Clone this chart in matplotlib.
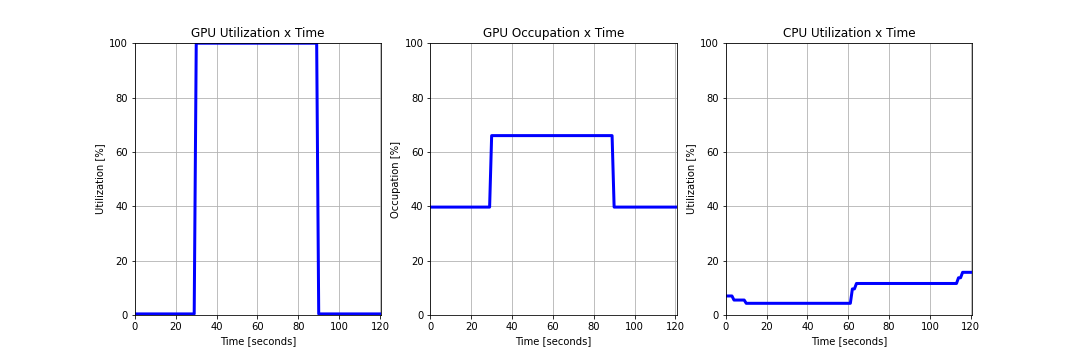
import matplotlib
matplotlib.use("Agg")
import matplotlib.pyplot as plt

# time stamps (seconds) and readings
gpu_util_t = [0, 29, 30, 89, 90, 120.6]
gpu_util = [0.4, 0.4, 100, 100, 0.4, 0.4]

gpu_occ_t = [0, 29, 30, 89, 90, 120.6]
gpu_occ = [39.7, 39.7, 66, 66, 39.7, 39.7]

cpu_t = [0, 3, 4, 9, 10, 61, 62, 63, 64, 113, 114, 115, 116, 120.6]
cpu_util = [7, 7, 5.5, 5.5, 4.3, 4.3, 9.6, 9.6, 11.6, 11.6, 13.7, 13.7, 15.7, 15.7]

titles = ["GPU Utilization x Time", "GPU Occupation x Time", "CPU Utilization x Time"]
ylabels = ["Utilization [%]", "Occupation [%]", "Utilization [%]"]

fig, axes = plt.subplots(1, 3, figsize=(15, 5), dpi=72)
fig.subplots_adjust(bottom=0.125)

series = [(gpu_util_t, gpu_util), (gpu_occ_t, gpu_occ), (cpu_t, cpu_util)]
for ax, (t, v), title, yl in zip(axes, series, titles, ylabels):
	ax.plot(t, v, color='blue', linewidth=3)
	ax.set_title(title)
	ax.set_xlabel("Time [seconds]")
	ax.set_ylabel(yl)
	ax.set_xlim(0, 120.6)
	ax.set_ylim(0, 100)
	ax.grid(True)

plt.savefig('out.png')
plt.close()
